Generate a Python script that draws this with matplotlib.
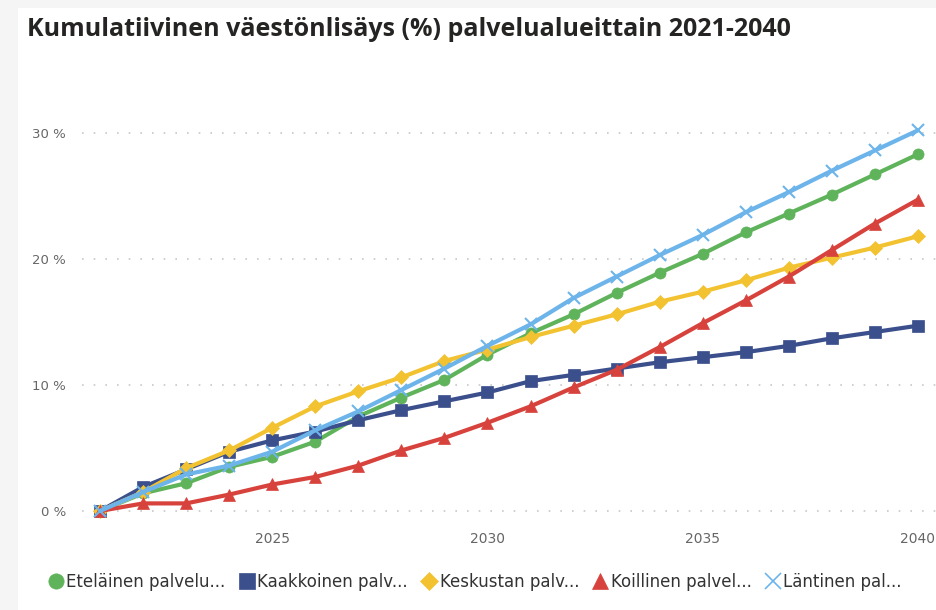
import matplotlib
matplotlib.use("Agg")
import matplotlib.pyplot as plt
import matplotlib.patches as patches
from matplotlib.lines import Line2D
from matplotlib.ticker import FuncFormatter, MultipleLocator

years = list(range(2021, 2041))

etelainen = [0, 1.4, 2.2, 3.5, 4.3, 5.5, 7.5, 9.0, 10.4, 12.4,
             14.1, 15.6, 17.3, 18.9, 20.4, 22.1, 23.6, 25.1, 26.7, 28.3]
kaakkoinen = [0, 1.9, 3.3, 4.7, 5.6, 6.3, 7.2, 8.0, 8.7, 9.4,
              10.3, 10.8, 11.3, 11.8, 12.2, 12.6, 13.1, 13.7, 14.2, 14.7]
keskustan = [0, 1.5, 3.4, 4.8, 6.6, 8.3, 9.5, 10.6, 11.9, 12.8,
             13.8, 14.7, 15.6, 16.6, 17.4, 18.3, 19.3, 20.1, 20.9, 21.8]
koillinen = [0, 0.6, 0.6, 1.3, 2.1, 2.7, 3.6, 4.8, 5.8, 7.0,
             8.3, 9.8, 11.2, 13.0, 14.9, 16.7, 18.6, 20.7, 22.8, 24.7]
lantinen = [0, 1.5, 2.9, 3.6, 4.7, 6.4, 7.9, 9.6, 11.3, 13.1,
            14.8, 16.9, 18.6, 20.3, 21.9, 23.7, 25.3, 27.0, 28.6, 30.2]

labels = ["Eteläinen palvelu...", "Kaakkoinen palv...", "Keskustan palv...",
          "Koillinen palvel...", "Läntinen pal..."]
colors = ["#5fb35a", "#3b4f8c", "#f2c230", "#d7433c", "#6cb4ea"]
markers = ["o", "s", "D", "^", "x"]
msizes = [8, 8, 7, 8, 9]
legend_sizes = [11, 11, 9, 11, 12]

fig = plt.figure(figsize=(9.36, 6.10), dpi=100)
fig.patch.set_facecolor("#f5f5f5")
# white panel like the report tile
fig.add_artist(patches.Rectangle((18 / 936, 0), 1, 1 - 8 / 610,
                                 transform=fig.transFigure,
                                 facecolor="white", edgecolor="none", zorder=0))

ax = fig.add_axes([82 / 936, 1 - 515 / 610, (936 - 82) / 936, (515 - 90) / 610])
ax.set_facecolor("white")

series = [etelainen, kaakkoinen, keskustan, koillinen, lantinen]
handles = []
for vals, lab, c, m, ms, lms in zip(series, labels, colors, markers, msizes, legend_sizes):
    ax.plot(years, vals, color=c, lw=3, marker=m, markersize=ms,
            markeredgewidth=1.5 if m == "x" else 0.5, markeredgecolor=c,
            solid_capstyle="round", clip_on=False)
    handles.append(Line2D([], [], color=c, marker=m, linestyle="none",
                          markersize=lms, markeredgecolor=c,
                          markeredgewidth=1.2 if m == "x" else 0.5, label=lab))

ax.set_xlim(2020.58, 2040.42)
ax.set_ylim(-0.32, 33.4)
ax.xaxis.set_major_locator(MultipleLocator(5))
ax.yaxis.set_major_locator(MultipleLocator(10))
ax.yaxis.set_major_formatter(FuncFormatter(lambda v, p: f"{int(v)} %"))
ax.grid(axis="y", color="#c8c8c8", linestyle=(0, (1, 6)), lw=1.2)
ax.set_axisbelow(True)
for s in ax.spines.values():
    s.set_visible(False)
ax.tick_params(length=0, labelsize=10, colors="#666666")
ax.tick_params(axis="y", labelsize=9.5, pad=11.5)
ax.tick_params(axis="x", pad=12)

fig.text(27 / 936, 1 - 30 / 610, "Kumulatiivinen väestönlisäys (%) palvelualueittain 2021-2040",
         fontsize=18, fontweight="bold", color="#252423", va="center",
         family=["Open Sans", "DejaVu Sans"])

fig.legend(handles=handles, loc="center left", bbox_to_anchor=(34 / 936, 1 - 582 / 610),
           ncol=5, frameon=False, fontsize=12, handlelength=0.8, handletextpad=0.25,
           columnspacing=0.85, labelcolor="#333333")

fig.savefig("out.png", dpi=100, facecolor=fig.get_facecolor())
